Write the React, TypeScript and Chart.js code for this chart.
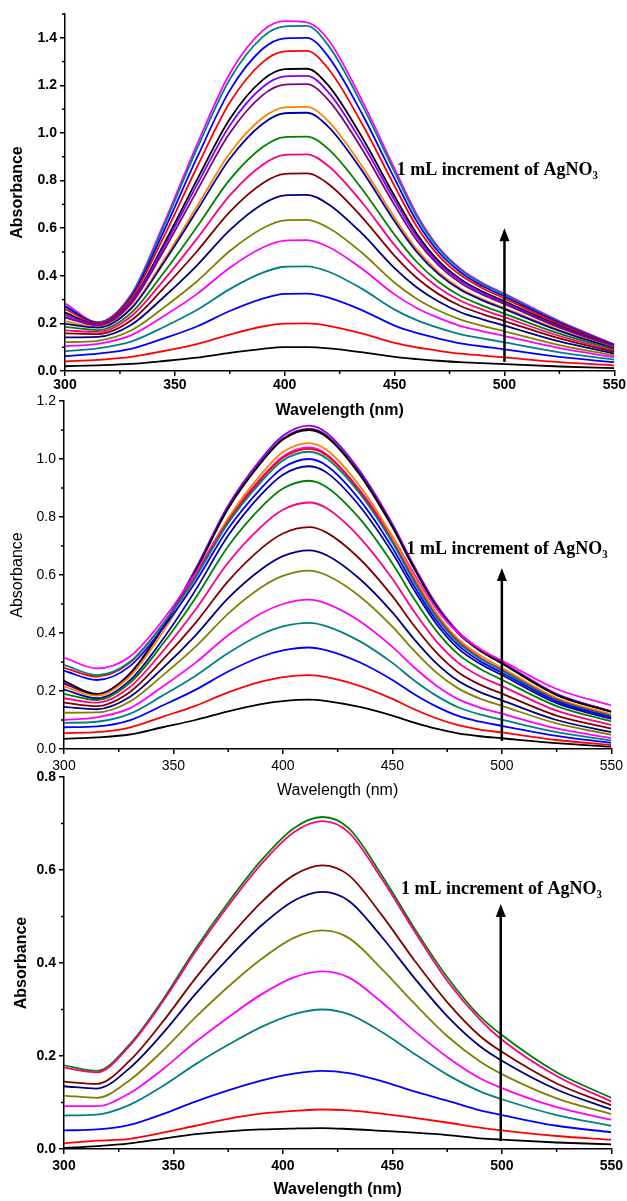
import React, { useEffect, useRef } from "react";
import { Chart, registerables } from "chart.js";

Chart.register(...registerables);
Chart.defaults.font.family = '"Liberation Sans", Arial, sans-serif';

// ---------- wavelengths (nm) ----------
const WL_TOP = [300, 315, 330, 345, 360, 375, 390, 400, 410, 420, 435, 450, 460, 470, 480, 490, 500, 525, 550];
const WL_MID = [300, 315, 330, 345, 360, 375, 390, 400, 412, 420, 435, 450, 460, 470, 480, 490, 500, 525, 550];
const WL_BOT = [300, 315, 330, 345, 360, 375, 390, 405, 418, 430, 445, 460, 475, 490, 500, 525, 550];

// ---------- tick values ----------
const X_TICKS = [300, 350, 400, 450, 500, 550];
const X_MINOR = [325, 375, 425, 475, 525];
const Y_TICKS_TOP = [0, 0.2, 0.4, 0.6, 0.8, 1.0, 1.2, 1.4];
const Y_MINOR_TOP = [0.1, 0.3, 0.5, 0.7, 0.9, 1.1, 1.3, 1.5];
const Y_TICKS_MID = [0, 0.2, 0.4, 0.6, 0.8, 1.0, 1.2];
const Y_MINOR_MID = [0.1, 0.3, 0.5, 0.7, 0.9, 1.1];
const Y_TICKS_BOT = [0, 0.2, 0.4, 0.6, 0.8];
const Y_MINOR_BOT = [0.1, 0.3, 0.5, 0.7];

// ---------- series colours ----------
const TOP_COLORS = [
  "#000000", "#FF0000", "#0000FF", "#008080", "#FF00FF", "#808000", "#000080", "#800000",
  "#FF0080", "#008000", "#0000A0", "#FF8000", "#800080", "#8000FF", "#000000", "#FF0000",
  "#0000FF", "#008080", "#FF00FF",
];
const MID_COLORS = [
  "#000000", "#FF0000", "#0000FF", "#008080", "#FF00FF", "#808000", "#000080", "#800000",
  "#FF0080", "#008000", "#0000A0", "#0000FF", "#008080", "#FF0000", "#FF8000", "#FF00FF",
  "#000000", "#800080", "#8000FF",
];
const BOT_COLORS = [
  "#000000", "#FF0000", "#0000FF", "#008080", "#FF00FF", "#808000", "#000080", "#800000",
  "#FF0080", "#008000",
];

// ---------- absorbance values (one row per spectrum) ----------
const TOP_VALUES = [
  [0.020, 0.024, 0.030, 0.042, 0.056, 0.076, 0.093, 0.100, 0.100, 0.095, 0.079, 0.059, 0.050, 0.043, 0.037, 0.033, 0.029, 0.019, 0.012],
  [0.040, 0.047, 0.059, 0.084, 0.113, 0.153, 0.187, 0.199, 0.200, 0.190, 0.158, 0.118, 0.099, 0.085, 0.073, 0.065, 0.057, 0.037, 0.023],
  [0.062, 0.073, 0.093, 0.137, 0.187, 0.252, 0.304, 0.324, 0.325, 0.308, 0.256, 0.191, 0.160, 0.136, 0.116, 0.103, 0.091, 0.059, 0.037],
  [0.083, 0.095, 0.123, 0.185, 0.256, 0.344, 0.413, 0.438, 0.440, 0.417, 0.346, 0.258, 0.214, 0.181, 0.154, 0.137, 0.120, 0.078, 0.048],
  [0.104, 0.114, 0.150, 0.231, 0.323, 0.434, 0.519, 0.548, 0.550, 0.521, 0.431, 0.322, 0.265, 0.223, 0.189, 0.167, 0.147, 0.096, 0.058],
  [0.121, 0.127, 0.170, 0.267, 0.376, 0.504, 0.600, 0.633, 0.635, 0.601, 0.498, 0.371, 0.304, 0.254, 0.216, 0.190, 0.167, 0.109, 0.065],
  [0.141, 0.143, 0.193, 0.311, 0.443, 0.592, 0.702, 0.738, 0.740, 0.700, 0.579, 0.432, 0.352, 0.292, 0.247, 0.217, 0.191, 0.124, 0.073],
  [0.158, 0.155, 0.212, 0.349, 0.502, 0.669, 0.789, 0.828, 0.830, 0.785, 0.648, 0.484, 0.392, 0.323, 0.273, 0.239, 0.210, 0.137, 0.080],
  [0.171, 0.164, 0.229, 0.382, 0.555, 0.738, 0.867, 0.908, 0.910, 0.860, 0.710, 0.529, 0.427, 0.350, 0.295, 0.258, 0.226, 0.147, 0.085],
  [0.185, 0.172, 0.243, 0.414, 0.605, 0.804, 0.941, 0.983, 0.985, 0.931, 0.767, 0.572, 0.459, 0.375, 0.315, 0.275, 0.241, 0.157, 0.090],
  [0.198, 0.182, 0.261, 0.456, 0.673, 0.892, 1.039, 1.083, 1.085, 1.025, 0.844, 0.629, 0.501, 0.407, 0.341, 0.297, 0.260, 0.169, 0.095],
  [0.210, 0.184, 0.265, 0.466, 0.690, 0.915, 1.064, 1.108, 1.110, 1.048, 0.863, 0.644, 0.512, 0.415, 0.347, 0.302, 0.265, 0.172, 0.097],
  [0.225, 0.191, 0.281, 0.506, 0.756, 1.000, 1.159, 1.203, 1.205, 1.137, 0.935, 0.697, 0.551, 0.444, 0.370, 0.321, 0.282, 0.182, 0.101],
  [0.235, 0.194, 0.287, 0.521, 0.781, 1.032, 1.193, 1.238, 1.240, 1.170, 0.962, 0.717, 0.566, 0.454, 0.379, 0.328, 0.288, 0.186, 0.103],
  [0.245, 0.196, 0.291, 0.533, 0.802, 1.059, 1.223, 1.268, 1.270, 1.198, 0.985, 0.734, 0.578, 0.463, 0.386, 0.334, 0.293, 0.190, 0.104],
  [0.260, 0.200, 0.303, 0.565, 0.855, 1.128, 1.298, 1.343, 1.345, 1.268, 1.042, 0.777, 0.608, 0.485, 0.403, 0.348, 0.305, 0.197, 0.107],
  [0.270, 0.202, 0.310, 0.588, 0.895, 1.179, 1.354, 1.398, 1.400, 1.319, 1.084, 0.808, 0.630, 0.500, 0.415, 0.357, 0.313, 0.202, 0.109],
  [0.275, 0.204, 0.317, 0.609, 0.932, 1.226, 1.404, 1.448, 1.450, 1.366, 1.121, 0.836, 0.650, 0.514, 0.425, 0.366, 0.321, 0.207, 0.110],
  [0.285, 0.205, 0.320, 0.620, 0.950, 1.250, 1.430, 1.470, 1.465, 1.390, 1.140, 0.850, 0.660, 0.520, 0.430, 0.370, 0.325, 0.210, 0.112],
];

const MID_VALUES = [
  [0.035, 0.040, 0.050, 0.075, 0.100, 0.130, 0.155, 0.165, 0.170, 0.165, 0.145, 0.115, 0.091, 0.070, 0.054, 0.044, 0.037, 0.020, 0.008],
  [0.055, 0.058, 0.074, 0.111, 0.149, 0.195, 0.232, 0.248, 0.255, 0.248, 0.218, 0.173, 0.137, 0.106, 0.082, 0.067, 0.057, 0.031, 0.014],
  [0.075, 0.078, 0.099, 0.150, 0.204, 0.267, 0.318, 0.340, 0.350, 0.340, 0.299, 0.238, 0.189, 0.147, 0.114, 0.094, 0.080, 0.045, 0.021],
  [0.090, 0.094, 0.121, 0.184, 0.252, 0.331, 0.395, 0.423, 0.435, 0.423, 0.372, 0.297, 0.236, 0.184, 0.144, 0.119, 0.101, 0.058, 0.029],
  [0.100, 0.109, 0.140, 0.215, 0.297, 0.392, 0.467, 0.500, 0.515, 0.501, 0.441, 0.352, 0.281, 0.219, 0.172, 0.143, 0.122, 0.071, 0.037],
  [0.125, 0.126, 0.163, 0.253, 0.352, 0.467, 0.557, 0.597, 0.615, 0.599, 0.527, 0.422, 0.338, 0.264, 0.209, 0.174, 0.149, 0.088, 0.049],
  [0.145, 0.137, 0.179, 0.278, 0.391, 0.520, 0.619, 0.665, 0.685, 0.668, 0.587, 0.471, 0.378, 0.296, 0.235, 0.196, 0.168, 0.100, 0.058],
  [0.160, 0.148, 0.196, 0.307, 0.434, 0.579, 0.691, 0.743, 0.765, 0.746, 0.656, 0.527, 0.424, 0.333, 0.265, 0.222, 0.191, 0.115, 0.070],
  [0.175, 0.160, 0.213, 0.336, 0.480, 0.643, 0.766, 0.825, 0.850, 0.830, 0.730, 0.587, 0.473, 0.372, 0.298, 0.251, 0.217, 0.132, 0.083],
  [0.190, 0.169, 0.227, 0.361, 0.520, 0.699, 0.833, 0.898, 0.925, 0.903, 0.795, 0.640, 0.517, 0.408, 0.327, 0.277, 0.239, 0.148, 0.095],
  [0.205, 0.175, 0.236, 0.377, 0.547, 0.736, 0.877, 0.946, 0.975, 0.953, 0.838, 0.676, 0.547, 0.432, 0.347, 0.294, 0.255, 0.158, 0.104],
  [0.270, 0.238, 0.285, 0.415, 0.575, 0.760, 0.899, 0.970, 1.000, 0.977, 0.860, 0.694, 0.561, 0.444, 0.358, 0.303, 0.263, 0.164, 0.109],
  [0.290, 0.255, 0.300, 0.428, 0.591, 0.779, 0.921, 0.995, 1.025, 1.002, 0.882, 0.712, 0.576, 0.456, 0.368, 0.312, 0.271, 0.169, 0.113],
  [0.280, 0.250, 0.297, 0.429, 0.595, 0.786, 0.930, 1.004, 1.035, 1.012, 0.890, 0.718, 0.582, 0.460, 0.372, 0.315, 0.273, 0.171, 0.114],
  [0.215, 0.184, 0.250, 0.402, 0.589, 0.795, 0.947, 1.024, 1.055, 1.031, 0.908, 0.733, 0.594, 0.470, 0.380, 0.323, 0.280, 0.176, 0.119],
  [0.315, 0.278, 0.318, 0.443, 0.606, 0.794, 0.934, 1.009, 1.040, 1.016, 0.894, 0.732, 0.603, 0.485, 0.400, 0.345, 0.305, 0.207, 0.150],
  [0.235, 0.188, 0.257, 0.416, 0.612, 0.829, 0.987, 1.067, 1.100, 1.076, 0.947, 0.765, 0.621, 0.492, 0.399, 0.339, 0.295, 0.186, 0.128],
  [0.225, 0.188, 0.258, 0.417, 0.614, 0.832, 0.991, 1.071, 1.105, 1.081, 0.951, 0.769, 0.624, 0.495, 0.401, 0.341, 0.297, 0.188, 0.129],
  [0.228, 0.190, 0.260, 0.420, 0.620, 0.840, 1.000, 1.080, 1.115, 1.090, 0.960, 0.776, 0.630, 0.500, 0.405, 0.345, 0.300, 0.190, 0.130],
];

const BOT_VALUES = [
  [0.002, 0.006, 0.012, 0.022, 0.032, 0.038, 0.042, 0.044, 0.045, 0.043, 0.039, 0.035, 0.030, 0.023, 0.020, 0.014, 0.010],
  [0.012, 0.018, 0.022, 0.035, 0.050, 0.065, 0.076, 0.082, 0.085, 0.083, 0.076, 0.067, 0.057, 0.046, 0.040, 0.028, 0.020],
  [0.040, 0.042, 0.052, 0.075, 0.102, 0.126, 0.147, 0.162, 0.168, 0.163, 0.146, 0.124, 0.104, 0.083, 0.073, 0.050, 0.036],
  [0.072, 0.074, 0.095, 0.135, 0.182, 0.224, 0.262, 0.290, 0.300, 0.290, 0.252, 0.205, 0.160, 0.124, 0.107, 0.073, 0.050],
  [0.092, 0.092, 0.120, 0.171, 0.230, 0.283, 0.332, 0.369, 0.382, 0.369, 0.316, 0.254, 0.198, 0.152, 0.131, 0.090, 0.063],
  [0.115, 0.110, 0.148, 0.211, 0.283, 0.349, 0.408, 0.454, 0.470, 0.454, 0.388, 0.313, 0.243, 0.188, 0.161, 0.109, 0.075],
  [0.135, 0.130, 0.174, 0.248, 0.333, 0.410, 0.480, 0.534, 0.553, 0.534, 0.457, 0.368, 0.286, 0.221, 0.190, 0.128, 0.085],
  [0.145, 0.140, 0.190, 0.273, 0.367, 0.453, 0.530, 0.589, 0.610, 0.589, 0.504, 0.406, 0.316, 0.243, 0.209, 0.141, 0.094],
  [0.175, 0.165, 0.222, 0.316, 0.424, 0.523, 0.612, 0.681, 0.705, 0.681, 0.582, 0.469, 0.362, 0.278, 0.235, 0.157, 0.102],
  [0.180, 0.168, 0.225, 0.320, 0.430, 0.530, 0.620, 0.690, 0.714, 0.690, 0.590, 0.475, 0.370, 0.285, 0.245, 0.165, 0.110],
];

// ---------- text ----------
const ANNOTATION = "1 mL increment of AgNO\u2083";
const X_TITLE = "Wavelength (nm)";
const Y_TITLE = "Absorbance";

type PanelSpec = {
  top: number;
  height: number;
  padTop: number;
  padRight: number;
  axisH: number;
  axisW: number;
  wl: number[];
  values: number[][];
  colors: string[];
  yMax: number;
  yTicks: number[];
  yMinor: number[];
  bold: boolean;
  xTickPad: number;
  xTitlePad: number;
  yTitlePad: number;
  arrow: { x: number; y0: number; y1: number };
  label: { x: number; y: number };
};

const PANELS: PanelSpec[] = [
  {
    top: 0, height: 430, padTop: 14, padRight: 12, axisH: 59, axisW: 65,
    wl: WL_TOP, values: TOP_VALUES, colors: TOP_COLORS,
    yMax: 1.5, yTicks: Y_TICKS_TOP, yMinor: Y_MINOR_TOP, bold: true,
    xTickPad: 1, xTitlePad: 10, yTitlePad: 8,
    arrow: { x: 500, y0: 0.038, y1: 0.6 }, label: { x: 451, y: 0.845 },
  },
  {
    top: 380, height: 430, padTop: 21, padRight: 12, axisH: 61, axisW: 64,
    wl: WL_MID, values: MID_VALUES, colors: MID_COLORS,
    yMax: 1.2, yTicks: Y_TICKS_MID, yMinor: Y_MINOR_MID, bold: false,
    xTickPad: 4, xTitlePad: 10, yTitlePad: 8,
    arrow: { x: 500, y0: 0.028, y1: 0.624 }, label: { x: 456.5, y: 0.69 },
  },
  {
    top: 760, height: 441, padTop: 17, padRight: 14, axisH: 52, axisW: 64,
    wl: WL_BOT, values: BOT_VALUES, colors: BOT_COLORS,
    yMax: 0.8, yTicks: Y_TICKS_BOT, yMinor: Y_MINOR_BOT, bold: true,
    xTickPad: 4, xTitlePad: 2, yTitlePad: 12,
    arrow: { x: 499.5, y0: 0.017, y1: 0.527 }, label: { x: 453.9, y: 0.559 },
  },
];

const extrasPlugin = {
  id: "extras",
  afterDraw(chart: any, _args: any, opts: any) {
    const { ctx } = chart;
    const xs = chart.scales.x;
    const ys = chart.scales.y;
    ctx.save();
    ctx.strokeStyle = "#000";
    ctx.lineWidth = 1.5;
    // minor ticks
    for (const v of opts.xMinor as number[]) {
      const px = xs.getPixelForValue(v);
      ctx.beginPath();
      ctx.moveTo(px, ys.bottom);
      ctx.lineTo(px, ys.bottom + 3);
      ctx.stroke();
    }
    for (const v of opts.yMinor as number[]) {
      const py = ys.getPixelForValue(v);
      ctx.beginPath();
      ctx.moveTo(xs.left, py);
      ctx.lineTo(xs.left - 3, py);
      ctx.stroke();
    }
    // arrow
    const ax = xs.getPixelForValue(opts.arrow.x);
    const ay0 = ys.getPixelForValue(opts.arrow.y0);
    const ay1 = ys.getPixelForValue(opts.arrow.y1);
    ctx.lineWidth = 2.5;
    ctx.beginPath();
    ctx.moveTo(ax, ay0);
    ctx.lineTo(ax, ay1 + 10);
    ctx.stroke();
    ctx.fillStyle = "#000";
    ctx.beginPath();
    ctx.moveTo(ax, ay1);
    ctx.lineTo(ax - 5, ay1 + 13);
    ctx.lineTo(ax + 5, ay1 + 13);
    ctx.closePath();
    ctx.fill();
    // label
    ctx.font = 'bold 18px "Liberation Serif", "Times New Roman", serif';
    ctx.textAlign = "left";
    ctx.textBaseline = "middle";
    ctx.fillText(ANNOTATION, xs.getPixelForValue(opts.label.x), ys.getPixelForValue(opts.label.y));
    ctx.restore();
  },
};

function makeChart(canvas: HTMLCanvasElement, spec: PanelSpec) {
  const weight = spec.bold ? "bold" : "normal";
  return new Chart(canvas, {
    type: "line",
    data: {
      datasets: spec.values.map((vals, i) => ({
        data: spec.wl.map((w, j) => ({ x: w, y: vals[j] })),
        borderColor: spec.colors[i],
        backgroundColor: spec.colors[i],
        borderWidth: 1.8,
        pointRadius: 0,
        fill: false,
        cubicInterpolationMode: "monotone" as const,
      })),
    },
    options: {
      responsive: false,
      animation: false,
      events: [],
      layout: { padding: { top: spec.padTop, right: spec.padRight, left: 0, bottom: 0 } },
      plugins: {
        legend: { display: false },
        tooltip: { enabled: false },
        extras: {
          xMinor: X_MINOR,
          yMinor: spec.yMinor,
          arrow: spec.arrow,
          label: spec.label,
        },
      } as any,
      scales: {
        x: {
          type: "linear",
          min: 300,
          max: 550,
          afterBuildTicks: (s: any) => {
            s.ticks = X_TICKS.map((v) => ({ value: v }));
          },
          afterFit: (s: any) => {
            s.height = spec.axisH;
          },
          grid: { display: true, drawOnChartArea: false, drawTicks: true, tickLength: 5, color: "#000", lineWidth: 1.5 },
          border: { display: true, color: "#000", width: 1.5 },
          ticks: {
            color: "#000",
            font: { size: 14, weight },
            padding: spec.xTickPad,
            maxRotation: 0,
            autoSkip: false,
            callback: (v: any) => String(Math.round(Number(v))),
          },
          title: {
            display: true,
            text: X_TITLE,
            color: "#000",
            font: { size: 16, weight },
            padding: { top: 0, bottom: spec.xTitlePad },
          },
        },
        y: {
          type: "linear",
          min: 0,
          max: spec.yMax,
          afterBuildTicks: (s: any) => {
            s.ticks = spec.yTicks.map((v) => ({ value: v }));
          },
          afterFit: (s: any) => {
            s.width = spec.axisW;
          },
          grid: { display: true, drawOnChartArea: false, drawTicks: true, tickLength: 5, color: "#000", lineWidth: 1.5 },
          border: { display: true, color: "#000", width: 1.5 },
          ticks: {
            color: "#000",
            font: { size: 14, weight },
            padding: 3,
            autoSkip: false,
            callback: (v: any) => Number(v).toFixed(1),
          },
          title: {
            display: true,
            text: Y_TITLE,
            color: "#000",
            font: { size: 16, weight },
            padding: { top: spec.yTitlePad, bottom: 0 },
          },
        },
      },
    } as any,
    plugins: [extrasPlugin],
  });
}

export default function App() {
  const refs = [useRef<HTMLCanvasElement>(null), useRef<HTMLCanvasElement>(null), useRef<HTMLCanvasElement>(null)];

  useEffect(() => {
    const charts = PANELS.map((spec, i) => makeChart(refs[i].current as HTMLCanvasElement, spec));
    return () => charts.forEach((c) => c.destroy());
  }, []);

  return (
    <div style={{ position: "absolute", left: 0, top: 0, width: 627, height: 1201, background: "#fff", overflow: "hidden" }}>
      {PANELS.map((spec, i) => (
        <canvas
          key={i}
          ref={refs[i]}
          width={627}
          height={spec.height}
          style={{ position: "absolute", left: 0, top: spec.top, width: 627, height: spec.height }}
        />
      ))}
    </div>
  );
}
